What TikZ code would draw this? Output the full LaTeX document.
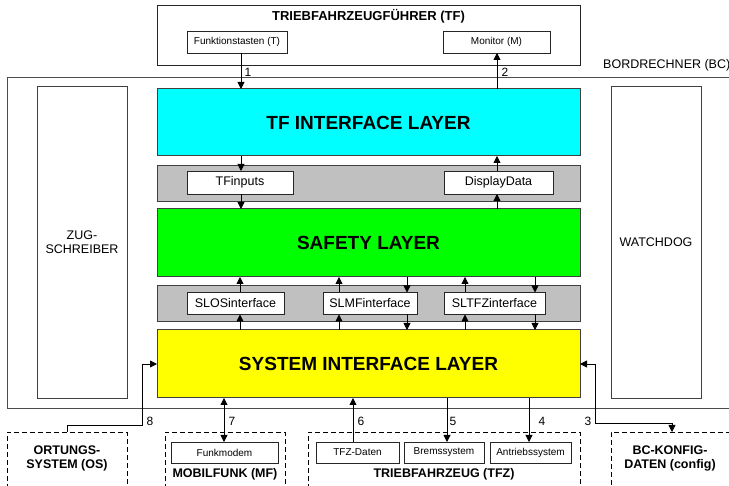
\documentclass[tikz,border=0pt]{standalone}
\usepackage{fontspec}
\setmainfont{Liberation Sans}
\usetikzlibrary{arrows.meta}
\definecolor{layercyan}{HTML}{00FFFF}
\definecolor{layergreen}{HTML}{00FF00}
\definecolor{layeryellow}{HTML}{FFFF00}
\definecolor{bandgrey}{HTML}{C0C0C0}
\begin{document}
\begin{tikzpicture}[x=1pt,y=-1pt,
  box/.style={draw=black!85, line width=0.8pt, inner sep=0pt, outer sep=0pt, fill=white},
  layer/.style={box, draw=black!75, line width=1pt, font=\fontsize{19}{22}\selectfont\bfseries},
  band/.style={box, draw=black!75, fill=bandgrey, line width=0.9pt},
  iface/.style={box, font=\fontsize{12.5}{14}\selectfont},
  dev/.style={box, font=\fontsize{10}{12}\selectfont},
  ext/.style={draw=black, line width=0.9pt, dash pattern=on 5pt off 3pt, inner sep=0pt, outer sep=0pt},
  extlabel/.style={font=\fontsize{12.5}{14}\selectfont\bfseries, align=center, inner sep=0pt},
  plain/.style={font=\fontsize{12.5}{14}\selectfont, align=center, inner sep=0pt},
  num/.style={font=\fontsize{12}{14}\selectfont, inner sep=0pt},
  arr/.style={line width=0.8pt, -{Triangle[length=7pt,width=7pt]}},
  dbl/.style={line width=0.8pt, {Triangle[length=7pt,width=7pt]}-{Triangle[length=7pt,width=7pt]}}
]
\useasboundingbox (0,0) rectangle (729,486);
\clip (0,0) rectangle (729,486);

% driver (top)
\node[box, minimum width=423, minimum height=60] (tf) at (368.5,35) {};
\node[font=\fontsize{13}{15}\selectfont\bfseries, inner sep=0pt] (tftitle) at (368.5,16) {TRIEBFAHRZEUGFÜHRER (TF)};
\node[dev, minimum width=100, minimum height=22] (keys) at (237,42) {Funktionstasten (T)};
\node[dev, minimum width=107, minimum height=22] (mon) at (496.5,42) {Monitor (M)};

% on-board computer
\node[box, draw=black!70, line width=1pt, fill=none, minimum width=738, minimum height=331] (bc) at (376,243.5) {};
\node[plain, anchor=west] (bclabel) at (603,65) {BORDRECHNER (BC)};
\node[box, draw=black!75, minimum width=90, minimum height=312, plain] (zug) at (82,242) {ZUG-\\SCHREIBER};
\node[box, draw=black!75, minimum width=90, minimum height=312, plain] (wd) at (656,242) {WATCHDOG};

% layers
\node[layer, fill=layercyan, minimum width=423, minimum height=67] (tfl) at (368.5,122.5) {TF INTERFACE LAYER};
\node[band, minimum width=423, minimum height=36] (g1) at (368.5,183) {};
\node[iface, minimum width=106, minimum height=23] (tfin) at (240,182.5) {TFinputs};
\node[iface, minimum width=109, minimum height=23] (dd) at (498.5,182.5) {DisplayData};
\node[layer, fill=layergreen, minimum width=423, minimum height=68] (sl) at (368.5,243) {SAFETY LAYER};
\node[band, minimum width=423, minimum height=36] (g2) at (368.5,303) {};
\node[iface, minimum width=97, minimum height=22] (slos) at (235.5,303.5) {SLOSinterface};
\node[iface, minimum width=94, minimum height=22] (slmf) at (370,303.5) {SLMFinterface};
\node[iface, minimum width=101, minimum height=22] (sltfz) at (494.5,303.5) {SLTFZinterface};
\node[layer, fill=layeryellow, minimum width=423, minimum height=68] (sys) at (368.5,364) {SYSTEM INTERFACE LAYER};

% external systems (bottom)
\node[ext, minimum width=120, minimum height=60] (os) at (67,462) {};
\node[extlabel] (oslabel) at (67,458) {ORTUNGS-\\SYSTEM (OS)};
\node[ext, minimum width=120, minimum height=60] (mf) at (225,462) {};
\node[dev, minimum width=107, minimum height=21] (modem) at (224.5,452.5) {Funkmodem};
\node[extlabel] (mflabel) at (225,474) {MOBILFUNK (MF)};
\node[ext, minimum width=272, minimum height=60] (tfz) at (444,462) {};
\node[dev, minimum width=83, minimum height=21] (tfzd) at (357.5,452.5) {TFZ-Daten};
\node[dev, minimum width=80, minimum height=21] (brems) at (444,452.5) {Bremssystem};
\node[dev, minimum width=81, minimum height=21] (antr) at (530.5,452.5) {Antriebssystem};
\node[extlabel] (tfzlabel) at (444,474) {TRIEBFAHRZEUG (TFZ)};
\node[ext, minimum width=134, minimum height=60] (cfg) at (678,462) {};
\node[extlabel] (cfglabel) at (670,458) {BC-KONFIG-\\DATEN (config)};

% connector columns
\coordinate (cA) at (241,0);
\coordinate (cB) at (497,0);
\coordinate (sA) at (240,0);
\coordinate (sB) at (339,0);
\coordinate (sC) at (407,0);
\coordinate (sD) at (465,0);
\coordinate (sE) at (535,0);
\coordinate (e7) at (224,0);
\coordinate (e6) at (353,0);
\coordinate (e5) at (447,0);
\coordinate (e4) at (529,0);
\coordinate (e3) at (672,0);
\coordinate (k8) at (142,425);
\coordinate (k3) at (595,423);

% driver <-> TF interface layer
\draw[arr] (keys.south -| cA) -- (tfl.north -| cA);
\draw[arr] (tfl.north -| cB) -- (mon.south -| cB);
\draw[arr] (tfl.south -| cA) -- (tfin.north -| cA);
\draw[arr] (tfin.south -| cA) -- (sl.north -| cA);
\draw[arr] (sl.north -| cB) -- (dd.south -| cB);
\draw[arr] (dd.north -| cB) -- (tfl.south -| cB);

% safety layer <-> system interface layer
\draw[arr] (sys.north -| sA) -- (slos.south -| sA);
\draw[arr] (slos.north -| sA) -- (sl.south -| sA);
\draw[arr] (sys.north -| sB) -- (slmf.south -| sB);
\draw[arr] (slmf.north -| sB) -- (sl.south -| sB);
\draw[arr] (sl.south -| sC) -- (slmf.north -| sC);
\draw[arr] (slmf.south -| sC) -- (sys.north -| sC);
\draw[arr] (sys.north -| sD) -- (sltfz.south -| sD);
\draw[arr] (sltfz.north -| sD) -- (sl.south -| sD);
\draw[arr] (sl.south -| sE) -- (sltfz.north -| sE);
\draw[arr] (sltfz.south -| sE) -- (sys.north -| sE);

% system interface layer <-> external systems
\draw[dbl] (sys.south -| e7) -- (modem.north -| e7);
\draw[arr] (tfzd.north -| e6) -- (sys.south -| e6);
\draw[arr] (sys.south -| e5) -- (brems.north -| e5);
\draw[arr] (sys.south -| e4) -- (antr.north -| e4);
\draw[arr] (os.north) |- (k8) |- (sys.west);
\draw[dbl] (sys.east) -| (k3) -| (cfg.north -| e3);

% interface numbers
\node[num] (n1) at (248,72) {1};
\node[num] (n2) at (505,72) {2};
\node[num] (n8) at (150,421) {8};
\node[num] (n7) at (232,421) {7};
\node[num] (n6) at (361,421) {6};
\node[num] (n5) at (453,421) {5};
\node[num] (n4) at (542,421) {4};
\node[num] (n3) at (588,421) {3};
\end{tikzpicture}
\end{document}
